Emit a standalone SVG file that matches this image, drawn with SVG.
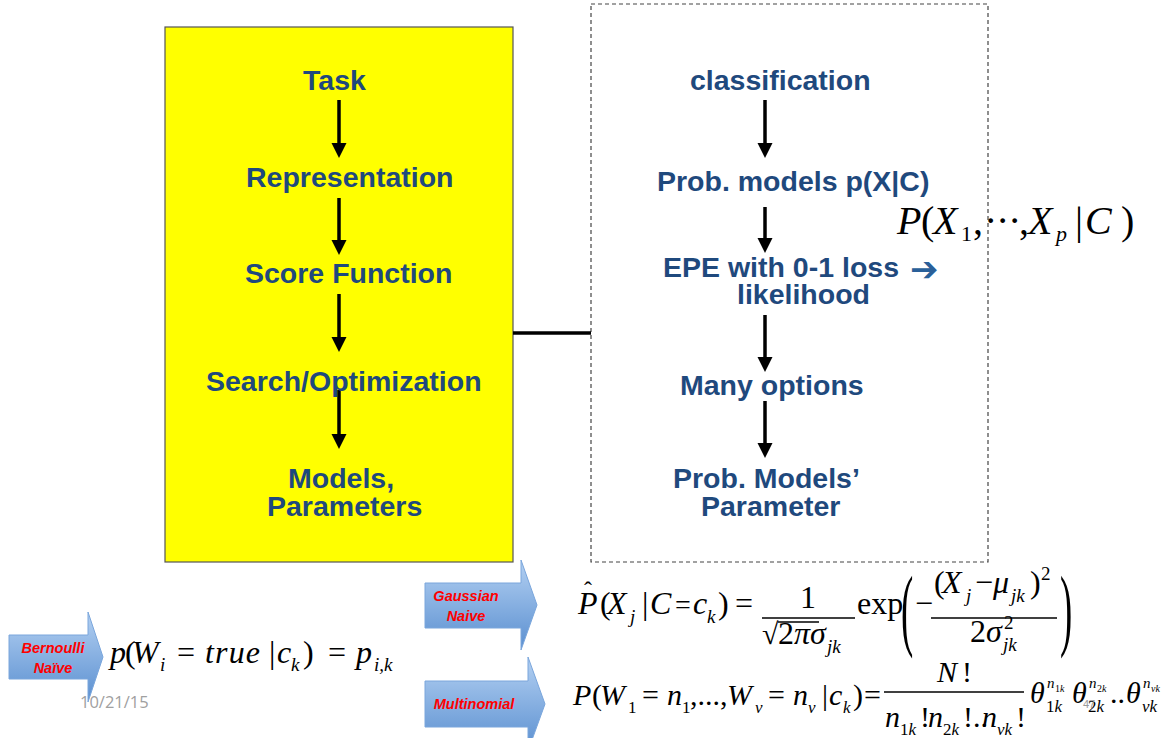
<svg xmlns="http://www.w3.org/2000/svg" width="1167" height="738" viewBox="0 0 1167 738">
<style>
.lbl{font-family:"Liberation Sans",Arial,sans-serif;font-weight:bold;font-size:28.5px;fill:#1F497D}
.conn{stroke:#000;stroke-width:3.5;fill:none}
.m{font-family:"Liberation Serif","Times New Roman",serif;fill:#000}
.i{font-style:italic}
.f40{font-size:40px}.f32{font-size:32px}.f30{font-size:30px}.f22{font-size:22px}.f19{font-size:19px}.f17{font-size:17px}.f15{font-size:15px}.f10{font-size:10px}
.tag{font-family:"Liberation Sans",Arial,sans-serif;font-weight:bold;font-style:italic;font-size:14.5px;fill:#ff0000}
.barl{stroke:#000;stroke-width:1.3}
.bigp{font-size:92px}
</style>
<defs>
<marker id="ah" markerUnits="userSpaceOnUse" markerWidth="16" markerHeight="16" refX="4" refY="7.5" orient="auto">
<path d="M0,0 L15,7.5 L0,15 Z" fill="#000"/>
</marker>
<linearGradient id="bg" x1="0" y1="0" x2="0" y2="1">
<stop offset="0" stop-color="#b3d0f2"/>
<stop offset="1" stop-color="#5a8fd0"/>
</linearGradient>
</defs>
<rect width="1167" height="738" fill="#fff"/>

<g id="left-panel">
<rect x="165" y="27" width="348" height="535" fill="#ffff00" stroke="#555" stroke-width="1.2"/>
</g>
<g id="right-panel">
<rect x="591" y="4" width="397" height="558" fill="none" stroke="#444" stroke-width="1.2" stroke-dasharray="4,3"/>
</g>

<g id="connectors">
<line class="conn" x1="513" y1="333" x2="591" y2="333" stroke-width="4"/>
<line class="conn" x1="339" y1="100" x2="339" y2="147" marker-end="url(#ah)"/>
<line class="conn" x1="339" y1="198" x2="339" y2="244" marker-end="url(#ah)"/>
<line class="conn" x1="339" y1="294" x2="339" y2="341" marker-end="url(#ah)"/>
<line class="conn" x1="339" y1="390" x2="339" y2="438" marker-end="url(#ah)"/>
<line class="conn" x1="765" y1="100" x2="765" y2="147" marker-end="url(#ah)"/>
<line class="conn" x1="765" y1="207" x2="765" y2="242" marker-end="url(#ah)"/>
<line class="conn" x1="765" y1="315" x2="765" y2="361" marker-end="url(#ah)"/>
<line class="conn" x1="765" y1="401" x2="765" y2="447" marker-end="url(#ah)"/>
</g>

<g id="n-task"><text class="lbl" x="303" y="90">Task</text></g>
<g id="n-representation"><text class="lbl" x="246" y="187">Representation</text></g>
<g id="n-score"><text class="lbl" x="245" y="283">Score Function</text></g>
<g id="n-search"><text class="lbl" x="206" y="391">Search/Optimization</text></g>
<g id="n-models"><text class="lbl" x="288" y="488">Models,</text><text class="lbl" x="267" y="516">Parameters</text></g>

<g id="n-classification"><text class="lbl" x="690" y="90">classification</text></g>
<g id="n-probmodels"><text class="lbl" x="657" y="191">Prob. models p(X|C)</text></g>
<g id="n-epe"><text class="lbl" x="663" y="277">EPE with 0-1 loss</text><text x="910" y="281" style="font-family:'DejaVu Sans',sans-serif;font-size:34px;fill:#2A6099">➔</text><text class="lbl" x="737" y="304">likelihood</text></g>
<g id="n-options"><text class="lbl" x="680" y="395">Many options</text></g>
<g id="n-params"><text class="lbl" x="673" y="488">Prob. Models’</text><text class="lbl" x="701" y="516">Parameter</text></g>

<g id="joint-formula" class="m">
<text class="f40 i" x="897" y="234">P</text>
<text class="f40" x="921" y="234">(</text>
<text class="f40 i" x="933" y="234">X</text>
<text class="f22" x="961" y="241">1</text>
<text class="f40" x="973" y="234">,</text>
<text class="f40" x="984" y="234">·</text>
<text class="f40" x="996" y="234">·</text>
<text class="f40" x="1008" y="234">·</text>
<text class="f40" x="1019" y="234">,</text>
<text class="f40 i" x="1028" y="234">X</text>
<text class="f22 i" x="1056" y="241">p</text>
<text class="f40" x="1075" y="234">|</text>
<text class="f40 i" x="1085" y="234">C</text>
<text class="f40" x="1121" y="234">)</text>
</g>

<g id="bernoulli">
<path d="M9,635 L88,635 L88,612 L103,657 L88,702 L88,679 L9,679 Z" fill="url(#bg)" stroke="#7aa6dc" stroke-width="1"/>
<text class="tag" x="53" y="653" text-anchor="middle">Bernoulli</text>
<text class="tag" x="53" y="673" text-anchor="middle">Naïve</text>
<g class="m">
<text class="f32 i" x="110" y="663">p</text>
<text class="f32" x="125" y="663">(</text>
<text class="f32 i" x="132" y="663">W</text>
<text class="f19 i" x="160" y="671">i</text>
<text class="f32" x="177" y="663">=</text>
<text class="f32 i" x="205" y="663" textLength="55">true</text>
<text class="f32" x="269" y="663">|</text>
<text class="f32 i" x="277" y="663">c</text>
<text class="f19 i" x="291" y="671">k</text>
<text class="f32" x="303" y="663">)</text>
<text class="f32" x="328" y="663">=</text>
<text class="f32 i" x="356" y="663">p</text>
<text class="f19 i" x="374" y="671">i,k</text>
</g>
<text x="80" y="708" style="font-family:'Open Sans','Liberation Sans',sans-serif;font-size:16.5px;fill:#a0a0a0">10/21/15</text>
</g>

<g id="gaussian">
<path d="M425,583 L521,583 L521,560 L537,605 L521,650 L521,628 L425,628 Z" fill="url(#bg)" stroke="#7aa6dc" stroke-width="1"/>
<text class="tag" x="466" y="601" text-anchor="middle">Gaussian</text>
<text class="tag" x="466" y="621" text-anchor="middle">Naive</text>
<g class="m">
<text x="584" y="598" font-size="24">ˆ</text>
<text class="f32 i" x="578" y="614">P</text>
<text class="f32" x="600" y="614">(</text>
<text class="f32 i" x="607" y="614">X</text>
<text class="f19 i" x="630" y="623">j</text>
<text class="f32" x="642" y="614">|</text>
<text class="f32 i" x="650" y="614">C</text>
<text x="675" y="614" font-size="28">=</text>
<text class="f32 i" x="693" y="614">c</text>
<text class="f19 i" x="707" y="623">k</text>
<text class="f32" x="718" y="614">)</text>
<text class="f32" x="735" y="614">=</text>
<text class="f32" x="808" y="608" text-anchor="middle">1</text>
<line class="barl" x1="762" y1="618" x2="855" y2="618"/>
<text x="762" y="644" font-size="30">√</text>
<line class="barl" x1="778" y1="622" x2="819" y2="622"/>
<text class="f32" x="778" y="644">2</text>
<text class="f32 i" x="794" y="644">πσ</text>
<text class="f19 i" x="827" y="653">jk</text>
<text class="f32" x="857" y="614">exp</text>
<text class="bigp" transform="translate(901,639) scale(0.4,1)">(</text>
<text class="f32" x="915" y="614">−</text>
<text class="f32" x="934" y="593">(</text>
<text class="f32 i" x="942" y="593">X</text>
<text class="f19 i" x="966" y="602">j</text>
<text class="f32" x="975" y="593">−</text>
<text class="f32 i" x="993" y="593">μ</text>
<text class="f19 i" x="1011" y="602">jk</text>
<text class="f32" x="1030" y="593">)</text>
<text class="f19" x="1041" y="580">2</text>
<line class="barl" x1="931" y1="618" x2="1057" y2="618"/>
<text class="f32" x="970" y="642">2</text>
<text class="f32 i" x="986" y="642">σ</text>
<text class="f19" x="1004" y="629">2</text>
<text class="f19 i" x="1003" y="651">jk</text>
<text class="bigp" transform="translate(1060,639) scale(0.4,1)">)</text>
</g>
</g>

<g id="multinomial">
<path d="M425,681 L528,681 L528,657 L545,704 L528,751 L528,727 L425,727 Z" fill="url(#bg)" stroke="#7aa6dc" stroke-width="1"/>
<text class="tag" x="474" y="709" text-anchor="middle">Multinomial</text>
<g class="m">
<text class="f30 i" x="573" y="705">P</text>
<text class="f30" x="592" y="705">(</text>
<text class="f30 i" x="600" y="705">W</text>
<text class="f17" x="628" y="713">1</text>
<text class="f30" x="642" y="705">=</text>
<text class="f30 i" x="667" y="705">n</text>
<text class="f17" x="682" y="713">1</text>
<text class="f30" x="690" y="705">,...,</text>
<text class="f30 i" x="727" y="705">W</text>
<text class="f17 i" x="755" y="713">v</text>
<text class="f30" x="768" y="705">=</text>
<text class="f30 i" x="793" y="705">n</text>
<text class="f17 i" x="808" y="713">v</text>
<text class="f30" x="822" y="705">|</text>
<text class="f30 i" x="829" y="705">c</text>
<text class="f17 i" x="843" y="713">k</text>
<text class="f30" x="853" y="705">)</text>
<text class="f30" x="864" y="705">=</text>
<text class="f30 i" x="937" y="682">N</text>
<text class="f30" x="962" y="682">!</text>
<line class="barl" x1="884" y1="692" x2="1024" y2="692"/>
<text class="f30 i" x="885" y="727">n</text>
<text class="f17" x="900" y="735">1<tspan class="i">k</tspan></text>
<text class="f30" x="920" y="727">!</text>
<text class="f30 i" x="928" y="727">n</text>
<text class="f17" x="943" y="735">2<tspan class="i">k</tspan></text>
<text class="f30" x="963" y="727">!..</text>
<text class="f30 i" x="982" y="727">n</text>
<text class="f17 i" x="997" y="735">vk</text>
<text class="f30" x="1016" y="727">!</text>
<text class="f30 i" x="1030" y="703">θ</text>
<text class="f15 i" x="1047" y="688">n</text>
<text class="f10" x="1055" y="692">1<tspan class="i">k</tspan></text>
<text class="f17" x="1046" y="712">1<tspan class="i">k</tspan></text>
<text class="f30 i" x="1072" y="703">θ</text>
<text class="f15 i" x="1089" y="688">n</text>
<text class="f10" x="1097" y="692">2<tspan class="i">k</tspan></text>
<text class="f17" x="1088" y="712">2<tspan class="i">k</tspan></text>
<text class="f30" x="1110" y="703">..</text>
<text class="f30 i" x="1126" y="703">θ</text>
<text class="f15 i" x="1143" y="688">n</text>
<text class="f10 i" x="1151" y="692">vk</text>
<text class="f17 i" x="1142" y="712">vk</text>
</g>
<text x="1083" y="708" style="font-family:'Liberation Sans',sans-serif;font-size:11px;fill:#9a9a9a">47</text>
</g>
</svg>
